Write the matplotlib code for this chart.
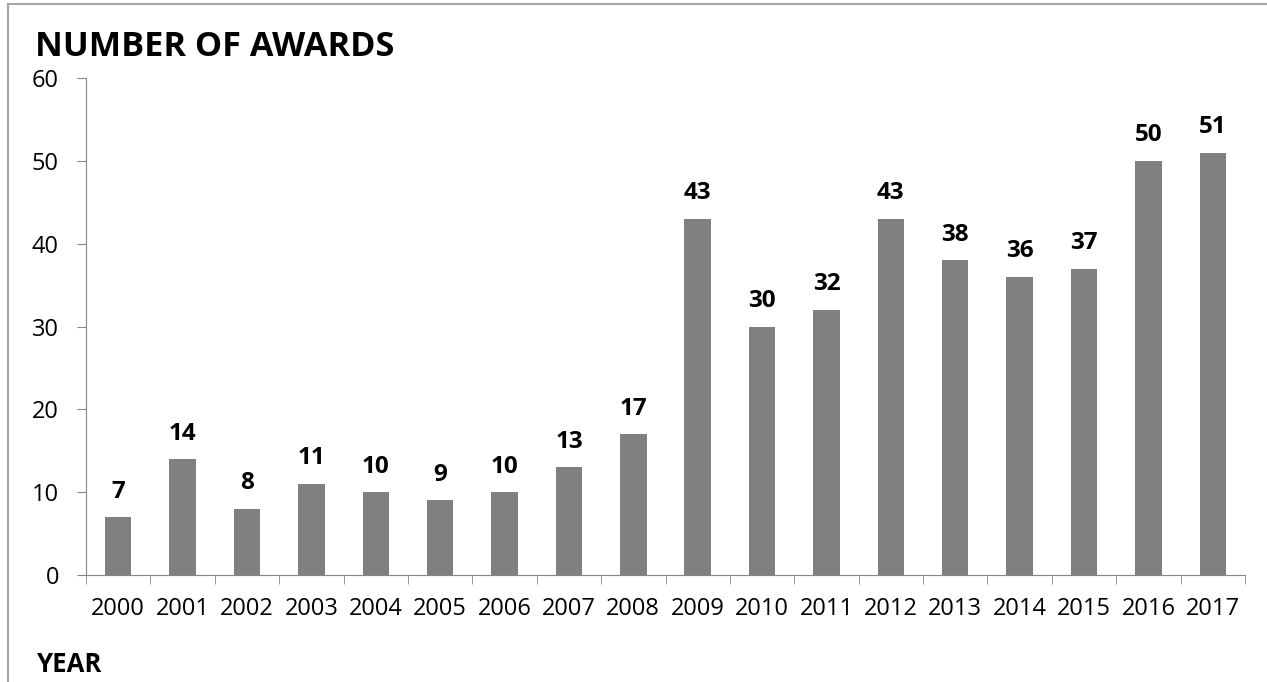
import matplotlib.pyplot as plt
from matplotlib.lines import Line2D
import numpy as np

years = [str(y) for y in range(2000, 2018)]
awards = [7, 14, 8, 11, 10, 9, 10, 13, 17, 43, 30, 32, 43, 38, 36, 37, 50, 51]

plt.rcParams["font.family"] = ["Open Sans", "DejaVu Sans"]

W, H = 1267, 682
fig = plt.figure(figsize=(W / 100, H / 100), dpi=100)
ax = fig.add_axes([86 / W, 1 - 575 / H, (1245 - 86) / W, (575 - 78) / H])

spine_col = "#868686"
x = np.arange(len(years))
ax.bar(x, awards, width=0.41, color="#808080", zorder=2)
for xi, v in zip(x, awards):
    ax.annotate(str(v), (xi, v), xytext=(0, 14), textcoords="offset points",
                ha="center", va="baseline", fontsize=17.5, fontweight="bold")

ax.set_xlim(-0.5, len(years) - 0.5)
ax.set_ylim(0, 60)
ax.set_yticks(range(0, 61, 10))
ax.tick_params(axis="y", labelsize=17, length=6.5, color=spine_col, pad=13)

# category labels centred, tick marks between categories
ax.set_xticks(x)
ax.set_xticklabels(years, fontsize=17)
ax.tick_params(axis="x", which="major", length=0, pad=16)
ax.set_xticks(np.arange(-0.5, len(years)), minor=True)
ax.tick_params(axis="x", which="minor", length=6.5, color=spine_col)

for side in ["top", "right"]:
    ax.spines[side].set_visible(False)
for side in ["left", "bottom"]:
    ax.spines[side].set_color(spine_col)

fig.text(35 / W, 1 - 56 / H, "NUMBER OF AWARDS", fontsize=24.7, fontweight="bold",
         va="baseline", ha="left")
fig.text(37 / W, 1 - 672 / H, "YEAR", fontsize=18.5, fontweight="bold",
         va="baseline", ha="left")

# chart frame
fig.add_artist(Line2D([8 / W, 8 / W], [0, 1 - 4 / H], color="#a6a6a6", lw=1.5))
fig.add_artist(Line2D([8 / W, 1], [1 - 4 / H, 1 - 4 / H], color="#a6a6a6", lw=1.5))

fig.savefig("out.png", dpi=100)
